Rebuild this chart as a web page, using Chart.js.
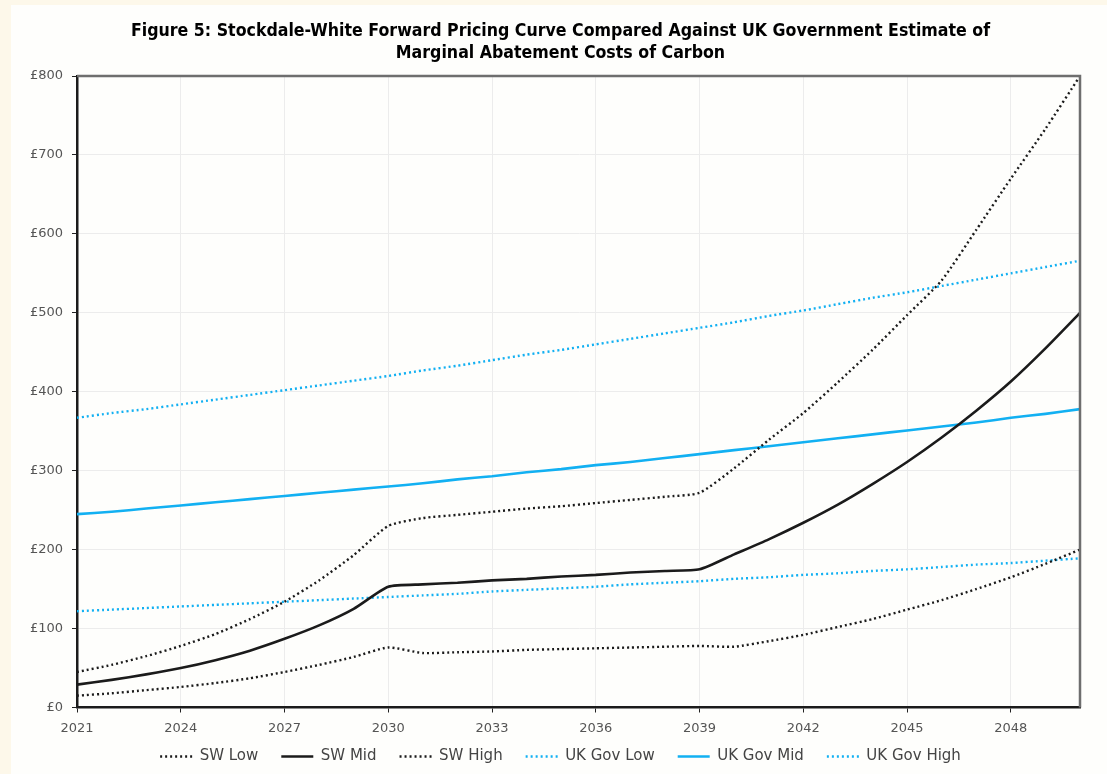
<!DOCTYPE html>
<html>
<head>
<meta charset="utf-8">
<script src="https://cdn.jsdelivr.net/npm/chart.js@4.4.1/dist/chart.umd.min.js"></script>
<style>
  html, body { margin:0; padding:0; background:#fdf8ea; width:1107px; height:774px; overflow:hidden; }
  #panel { position:absolute; left:11px; top:5px; width:1096px; height:769px; background:#fefefc; }
  canvas { display:block; }
</style>
</head>
<body>
<div id="panel"><canvas id="c" width="1096" height="769"></canvas></div>
<script>
const years = [2021,2022,2023,2024,2025,2026,2027,2028,2029,2030,2031,2032,2033,2034,2035,2036,2037,2038,2039,2040,2041,2042,2043,2044,2045,2046,2047,2048,2049,2050];
const swLow  = [15,18,22,26,31,37,45,54,64,76,69,70,71,73,74,75,76,77,78,77,84,92,102,112,124,136,150,165,182,200];
const swMid  = [29,35,42,50,60,72,87,104,125,153,156,158,161,163,166,168,171,173,175,194,213,234,257,283,311,342,376,413,455,500];
const swHigh = [45,54,65,78,93,112,134,161,193,230,240,244,248,252,255,259,263,267,272,303,339,373,412,453,497,541,605,670,733,800];
const ukLow  = [122,124,126,128,130,132,134,136,138,140,142,144,147,149,151,153,156,158,160,163,165,168,170,173,175,178,181,183,186,189];
const ukMid  = [245,248,252,256,260,264,268,272,276,280,284,289,293,298,302,307,311,316,321,326,331,336,341,346,351,356,361,367,372,378];
const ukHigh = [367,373,378,384,390,396,402,408,414,420,427,433,440,447,453,460,467,474,481,488,496,503,511,519,526,534,542,550,558,566];
const yTicks = [0,100,200,300,400,500,600,700,800];
const titleLines = ['Figure 5: Stockdale-White Forward Pricing Curve Compared Against UK Government Estimate of', 'Marginal Abatement Costs of Carbon'];

const TFONT = "'DejaVu Sans Condensed', 'DejaVu Sans', sans-serif";
const FONT = "'DejaVu Sans', sans-serif";
const BLACK = '#1b1b1b';
const BLUE = '#12b0f2';

const frame = {
  id: 'frame',
  afterDraw(chart) {
    const a = chart.chartArea, ctx = chart.ctx;
    ctx.save();
    ctx.strokeStyle = '#6e6e6e';
    ctx.lineWidth = 2.5;
    ctx.beginPath();
    ctx.moveTo(a.left, a.top);
    ctx.lineTo(a.right, a.top);
    ctx.lineTo(a.right, a.bottom);
    ctx.stroke();
    ctx.restore();
  }
};

function ds(label, data, color, dotted) {
  return {
    label, data,
    borderColor: color, backgroundColor: color,
    borderWidth: dotted ? 2.4 : 2.6,
    borderDash: dotted ? [2, 3] : [],
    pointRadius: 0, pointHoverRadius: 0,
    tension: 0.2, fill: false
  };
}

function noClip(scale) { scale._computeLabelArea = () => undefined; }

new Chart(document.getElementById('c'), {
  type: 'line',
  data: {
    labels: years,
    datasets: [
      ds('SW Low', swLow, BLACK, true),
      ds('SW Mid', swMid, BLACK, false),
      ds('SW High', swHigh, BLACK, true),
      ds('UK Gov Low', ukLow, BLUE, true),
      ds('UK Gov Mid', ukMid, BLUE, false),
      ds('UK Gov High', ukHigh, BLUE, true)
    ]
  },
  options: {
    responsive: false,
    animation: false,
    layout: { padding: { left: 30, right: 27, top: 0, bottom: 0 } },
    plugins: {
      title: {
        display: true,
        text: titleLines,
        color: '#000',
        font: { family: TFONT, size: 17.6, weight: 'bold', lineHeight: 1.25 },
        padding: { top: 15, bottom: 12 }
      },
      legend: {
        position: 'bottom',
        labels: {
          usePointStyle: true,
          pointStyle: 'line',
          pointStyleWidth: 32,
          boxHeight: 2,
          padding: 23,
          color: '#444',
          font: { family: FONT, size: 15 },
          generateLabels(chart) {
            const items = Chart.defaults.plugins.legend.labels.generateLabels(chart);
            items.forEach(it => {
              const d = chart.data.datasets[it.datasetIndex];
              it.lineDash = d.borderDash;
              it.lineWidth = d.borderWidth;
              it.strokeStyle = d.borderColor;
              it.fillStyle = d.borderColor;
              it.pointStyle = 'line';
            });
            return items;
          }
        }
      },
      tooltip: { enabled: false }
    },
    scales: {
      x: {
        type: 'category',
        offset: false,
        afterFit(scale) { scale.height = 18.5; noClip(scale); },
        grid: { color: '#ececec', lineWidth: 1, drawTicks: true, tickLength: 5, tickColor: '#222' },
        border: { color: BLACK, width: 2.5 },
        ticks: {
          autoSkip: false, maxRotation: 0, color: '#555', padding: 8,
          font: { family: FONT, size: 13 },
          callback(v, i) { const y = years[i]; return (y - 2021) % 3 === 0 ? String(y) : null; }
        }
      },
      y: {
        min: 0, max: 800,
        afterBuildTicks(scale) { scale.ticks = yTicks.map(v => ({ value: v })); },
        afterFit(scale) { scale.width = 36; noClip(scale); },
        grid: { color: '#ececec', lineWidth: 1, drawTicks: true, tickLength: 5, tickColor: '#222' },
        border: { color: BLACK, width: 2.5 },
        ticks: {
          color: '#555', padding: 9,
          font: { family: FONT, size: 13 },
          callback(v) { return '£' + v; }
        }
      }
    }
  },
  plugins: [frame]
});
</script>
</body>
</html>
